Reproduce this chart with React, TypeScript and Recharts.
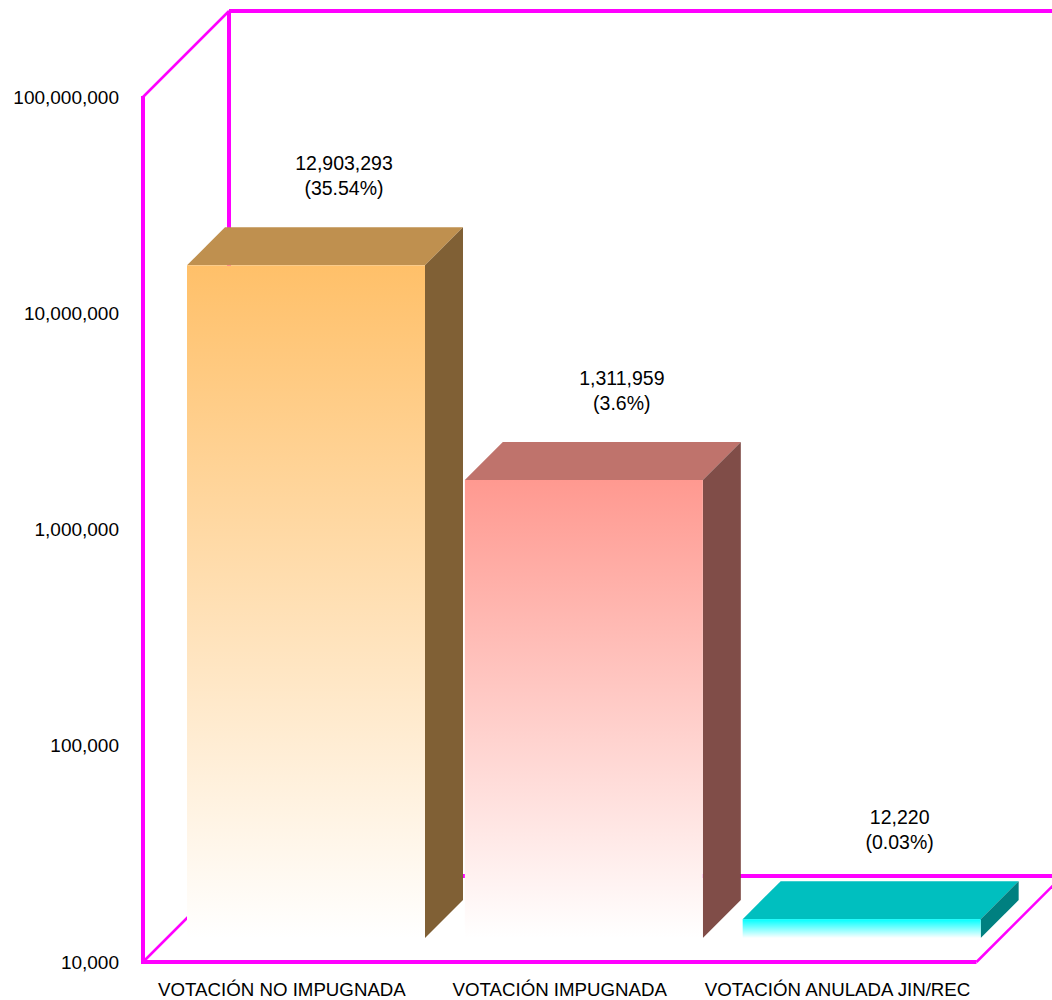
import React from 'react'
import { BarChart, Bar, XAxis, YAxis, LabelList } from 'recharts'

const categories = ['VOTACIÓN NO IMPUGNADA', 'VOTACIÓN IMPUGNADA', 'VOTACIÓN ANULADA JIN/REC']
const votes = [12903293, 1311959, 12220]
const percents = ['35.54%', '3.6%', '0.03%']
const baseColors = ['#FFC069', '#FF9990', '#00FFFF']
const yTicks = [10000, 100000, 1000000, 10000000, 100000000]

const data = categories.map((name, i) => ({ name, votes: votes[i], pct: percents[i] }))

// layout
const W = 1052
const H = 1000
const PLOT = { left: 143, top: 97, right: 976.5, bottom: 962 }
const WALL = 86 // depth of the floor / walls
const SHIFT = 24 // bars sit this far back from the front plane
const DEPTH = 38 // depth of each bar
const MAGENTA = '#FF00FF'
const FONT = '"Liberation Sans", Arial, sans-serif'

function shade(hex: string, k: number) {
  const n = parseInt(hex.slice(1), 16)
  const r = Math.round(((n >> 16) & 255) * k)
  const g = Math.round(((n >> 8) & 255) * k)
  const b = Math.round((n & 255) * k)
  return `rgb(${r},${g},${b})`
}

function Frame() {
  const { left: L, top: T, right: R, bottom: B } = PLOT
  const D = WALL
  return (
    <g stroke={MAGENTA} fill="none">
      <line x1={L + D} y1={T - D} x2={R + D + 10} y2={T - D} strokeWidth={4} />
      <line x1={L + D} y1={T - D} x2={L + D} y2={B - D} strokeWidth={4} />
      <line x1={L + D} y1={B - D} x2={R + D + 10} y2={B - D} strokeWidth={4} />
      <line x1={L} y1={T} x2={L + D} y2={T - D} strokeWidth={2.5} />
      <line x1={L} y1={B} x2={L + D} y2={B - D} strokeWidth={2.5} />
      <line x1={R} y1={B} x2={R + D} y2={B - D} strokeWidth={2.5} />
      <line x1={L} y1={T - 1} x2={L} y2={B + 2} strokeWidth={4} />
      <line x1={L} y1={B} x2={R} y2={B} strokeWidth={4} />
    </g>
  )
}

function Box3D(props: any) {
  const { x, y, width, height, index } = props
  const base = baseColors[index]
  const fx = x + SHIFT
  const fy = y - SHIFT
  const w = width
  const h = height
  const d = DEPTH
  const gid = `front-grad-${index}`
  return (
    <g>
      {index === 0 && <Frame />}
      <defs>
        <linearGradient id={gid} x1="0" y1="0" x2="0" y2="1">
          <stop offset="0" stopColor={base} />
          <stop offset="1" stopColor="#FFFFFF" />
        </linearGradient>
      </defs>
      <polygon
        points={`${fx},${fy} ${fx + d},${fy - d} ${fx + w + d},${fy - d} ${fx + w},${fy}`}
        fill={shade(base, 0.75)}
      />
      <polygon
        points={`${fx + w},${fy} ${fx + w + d},${fy - d} ${fx + w + d},${fy + h - d} ${fx + w},${fy + h}`}
        fill={shade(base, 0.5)}
      />
      <rect x={fx} y={fy} width={w} height={h} fill={`url(#${gid})`} />
    </g>
  )
}

function ValueLabel(props: any) {
  const { x, y, width, index } = props
  const cx = x + width / 2 + SHIFT + DEPTH
  return (
    <text x={cx} textAnchor="middle" fontFamily={FONT} fontSize={19.5} fill="#000">
      <tspan x={cx} y={y - 119}>{votes[index].toLocaleString('en-US')}</tspan>
      <tspan x={cx} y={y - 94}>({percents[index]})</tspan>
    </text>
  )
}

export default function App() {
  return (
    <div style={{ position: 'absolute', left: 0, top: 0, width: W, height: H, background: '#fff' }}>
      <BarChart
        width={W}
        height={H}
        data={data}
        margin={{ top: PLOT.top, right: W - PLOT.right, bottom: 0, left: 0 }}
      >
        <XAxis
          dataKey="name"
          height={H - PLOT.bottom}
          axisLine={false}
          tickLine={false}
          tickSize={0}
          tickMargin={21}
          interval={0}
          tick={{ fill: '#000', fontSize: 18.7, fontFamily: FONT }}
        />
        <YAxis
          type="number"
          scale="log"
          domain={[10000, 100000000]}
          ticks={yTicks}
          width={PLOT.left}
          axisLine={false}
          tickLine={false}
          tickSize={0}
          tickMargin={24}
          tickFormatter={(v: number) => v.toLocaleString('en-US')}
          tick={{ fill: '#000', fontSize: 19, fontFamily: FONT }}
        />
        <Bar dataKey="votes" barSize={238} shape={<Box3D />} isAnimationActive={false}>
          <LabelList dataKey="votes" content={<ValueLabel />} />
        </Bar>
      </BarChart>
    </div>
  )
}
